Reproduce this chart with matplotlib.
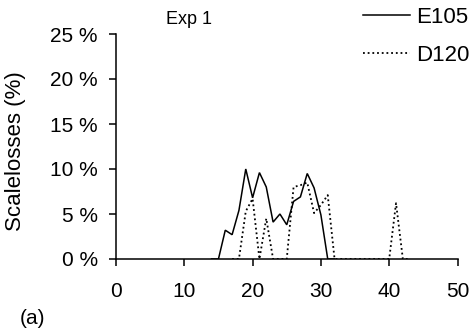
import matplotlib
matplotlib.use("Agg")
import matplotlib.pyplot as plt
import numpy as np

plt.rcParams['font.family'] = ['Liberation Sans', 'DejaVu Sans']

# Data
e105_x = list(range(14, 33))
e105 = [0, 0, 3.2, 2.7, 5.4, 10.0, 6.8, 9.6, 8.0, 4.1, 5.0, 3.8, 6.4, 6.9, 9.5, 7.9, 4.9, 0, 0]
d120_x = list(range(17, 44))
d120 = [0, 0, 5.3, 6.7, 0, 4.5, 0, 0, 0, 8.0, 8.2, 8.5, 5.1, 6.0, 7.1, 0, 0, 0, 0, 0, 0, 0, 0, 0, 6.2, 0, 0]
series_names = ["E105", "D120"]
xticks = [0, 10, 20, 30, 40, 50]
yticks = [0, 5, 10, 15, 20, 25]
ytick_labels = ["0 %", "5 %", "10 %", "15 %", "20 %", "25 %"]
title = "Exp 1"
ylabel = "Scalelosses (%)"
panel = "(a)"

W, H = 472, 330
fig = plt.figure(figsize=(W / 100, H / 100), dpi=100)
ax = fig.add_axes([116 / W, 1 - 259 / H, (457.5 - 116) / W, (259 - 34) / H])

ax.plot(e105_x, e105, color='black', lw=1.1, solid_joinstyle='miter', label=series_names[0])
ax.plot(d120_x, d120, color='black', lw=1.3, linestyle=(0, (1, 1.6)), label=series_names[1])

ax.set_xlim(0, 50)
ax.set_ylim(0, 25)
ax.set_xticks(xticks)
ax.set_yticks(yticks)
ax.set_yticklabels(ytick_labels)
for s in ['top', 'right']:
    ax.spines[s].set_visible(False)
for s in ['left', 'bottom']:
    ax.spines[s].set_linewidth(1.1)
ax.tick_params(axis='both', direction='out', length=5, width=1.1, labelsize=15)
ax.tick_params(axis='x', pad=11.5)
ax.tick_params(axis='y', pad=8)

ax.set_ylabel(ylabel, fontsize=16)
ax.yaxis.set_label_coords(-0.265, 0.48)

fig.text(189 / W, 1 - 19 / H, title, ha='center', va='center', fontsize=13)
fig.text(20 / W, 1 - 318 / H, panel, ha='left', va='center', fontsize=15)

leg = fig.legend(loc='upper right', bbox_to_anchor=(469 / W, 1 - 7 / H), frameon=False,
                 fontsize=16, handlelength=2.1, handletextpad=0.25, labelspacing=0.75,
                 borderpad=0, borderaxespad=0)

fig.savefig("out.png", dpi=100)
